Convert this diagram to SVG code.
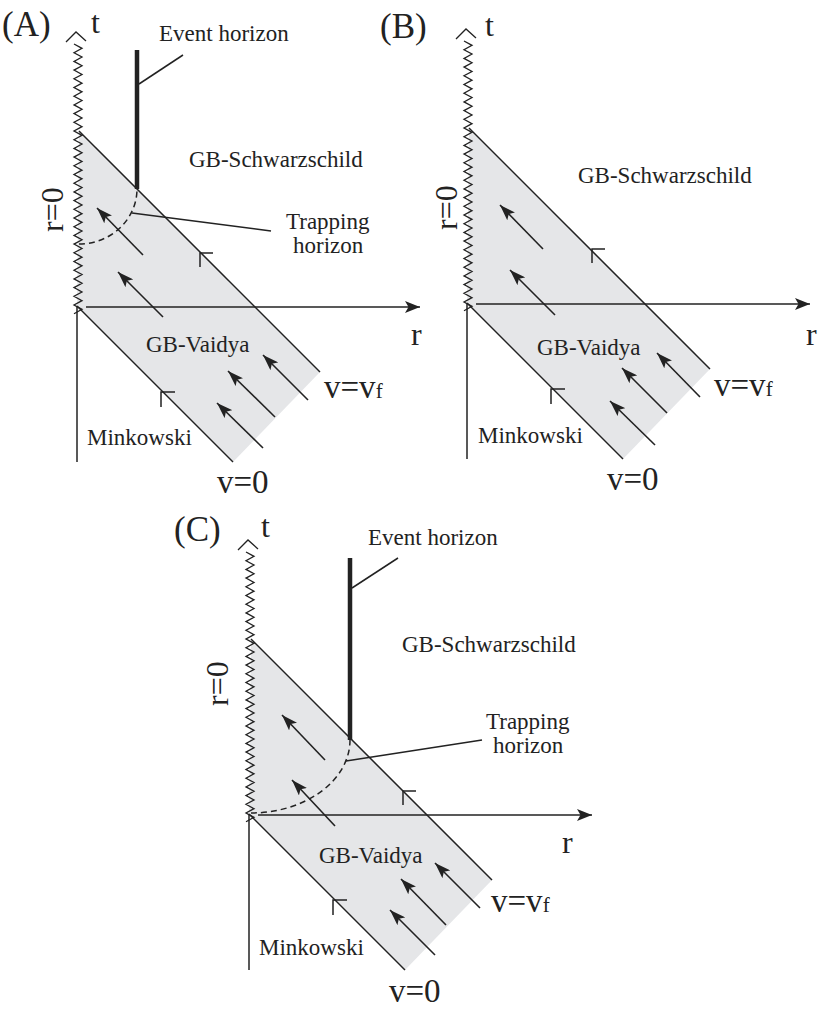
<svg xmlns="http://www.w3.org/2000/svg" xmlns:xlink="http://www.w3.org/1999/xlink" width="822" height="1010" viewBox="0 0 822 1010">
<style>
.ln{stroke:#222;stroke-width:1.5;fill:none}
.th{stroke:#222;stroke-width:1.3;fill:none}
.eh{stroke:#222;stroke-width:4.5;fill:none}
.dash{stroke:#222;stroke-width:1.5;fill:none;stroke-dasharray:6 4}
.shade{fill:#e5e6e8;stroke:none}
.lbl{font-family:"Liberation Serif","Times New Roman",serif;font-size:23px;fill:#222}
.big{font-size:32px}
.vv{font-size:33px}
.pan{font-size:35px}
.arr{stroke:#222;stroke-width:1.6;fill:none;marker-end:url(#ah)}
</style>
<defs>
<marker id="ah" markerUnits="userSpaceOnUse" viewBox="0 0 16 11" refX="16" refY="5.5" markerWidth="16" markerHeight="11" orient="auto">
<path d="M0,0 L16,5.5 L0,11 L3.5,5.5 Z" fill="#222"/>
</marker>
<marker id="ax" markerUnits="userSpaceOnUse" viewBox="0 0 15 12" refX="15" refY="6" markerWidth="15" markerHeight="12" orient="auto">
<path d="M0,0 L15,6 L0,12 L3.5,6 Z" fill="#222"/>
</marker>
<path id="zz" class="th" d="M0,0 l8,4.35 -8,4.35 8,4.35 -8,4.35 8,4.35 -8,4.35 8,4.35 -8,4.35 8,4.35 -8,4.35 8,4.35 -8,4.35 8,4.35 -8,4.35 8,4.35 -8,4.35 8,4.35 -8,4.35 8,4.35 -8,4.35 8,4.35 -8,4.35 8,4.35 -8,4.35 8,4.35 -8,4.35 8,4.35 -8,4.35 8,4.35 -8,4.35 8,4.35 -8,4.35 8,4.35 -8,4.35 8,4.35 -8,4.35 8,4.35 -8,4.35 8,4.35 -8,4.35 8,4.35 -8,4.35 8,4.35 -8,4.35 8,4.35 -8,4.35 8,4.35 -8,4.35 8,4.35 -8,4.35 8,4.35 -8,4.35 8,4.35 -8,4.35 8,4.35 -8,4.35 8,4.35 -8,4.35 8,4.35 -8,4.35 8,4.35 -8,4.35"/>
<g id="base">
<polygon class="shade" points="79,131 320,372 233,462 77,306"/>
<path class="ln" d="M79,131 L320,372"/>
<path class="ln" d="M77,306 L233,462"/>
<path class="ln" d="M77,306 L77,462"/>
<path class="ln" d="M86,307 L420,307" marker-end="url(#ax)"/>
<path class="th" d="M66,42 L76,32 L86,41"/>
<use xlink:href="#zz" x="74" y="44"/>
<path class="ln" d="M161,407 L161,392 L175,392"/>
</g>
</defs>

<!-- Panel A -->
<g id="panel-A">
<g id="A-regions"><use xlink:href="#base"/></g>
<g id="A-event-horizon"><path class="eh" d="M137,50 L137,189"/></g>
<g id="A-trapping-horizon"><path class="dash" d="M79,244 A58,55 0 0 0 137,189"/></g>
<g id="A-tick"><path class="ln" d="M200,267 L200,253 L213,253"/></g>
<g id="A-labels" class="lbl">
<text class="pan" x="2" y="36">(A)</text>
<text class="big" x="91" y="33">t</text>
<text x="159" y="41">Event horizon</text>
<text x="189" y="167">GB-Schwarzschild</text>
<text x="286" y="229">Trapping</text>
<text x="293" y="253">horizon</text>
<text class="big" transform="translate(63,232) rotate(-90)">r=0</text>
<text x="146" y="352">GB-Vaidya</text>
<text x="87" y="445">Minkowski</text>
<text class="vv" x="324" y="398">v=v<tspan font-size="21">f</tspan></text>
<text class="vv" x="217" y="493">v=0</text>
<text class="big" x="411" y="345">r</text>
</g>
</g>

<!-- Panel B -->
<g id="panel-B">
<g id="B-regions"><use xlink:href="#base" transform="translate(390,-3)"/></g>
<g id="B-tick"><path class="ln" d="M592,263 L592,249 L605,249"/></g>
<g id="B-labels" class="lbl">
<text class="pan" x="380" y="38">(B)</text>
<text class="big" x="485" y="36">t</text>
<text x="578" y="183">GB-Schwarzschild</text>
<text class="big" transform="translate(457,230) rotate(-90)">r=0</text>
<text x="537" y="355">GB-Vaidya</text>
<text x="478" y="443">Minkowski</text>
<text class="vv" x="714" y="396">v=v<tspan font-size="21">f</tspan></text>
<text class="vv" x="607" y="490">v=0</text>
<text class="big" x="806" y="345">r</text>
</g>
</g>

<!-- Panel C -->
<g id="panel-C">
<g id="C-regions"><use xlink:href="#base" transform="translate(172,508)"/></g>
<g id="C-event-horizon"><path class="eh" d="M350,558 L350,740"/></g>
<g id="C-trapping-horizon"><path class="dash" d="M251,813 A99,73 0 0 0 350,740"/></g>
<g id="C-tick"><path class="ln" d="M403,805 L403,791 L416,791"/></g>
<g id="C-labels" class="lbl">
<text class="pan" x="174" y="541">(C)</text>
<text class="big" x="261" y="537">t</text>
<text x="368" y="545">Event horizon</text>
<text x="402" y="652">GB-Schwarzschild</text>
<text x="486" y="729">Trapping</text>
<text x="493" y="753">horizon</text>
<text class="big" transform="translate(228,706) rotate(-90)">r=0</text>
<text x="319" y="863">GB-Vaidya</text>
<text x="259" y="955">Minkowski</text>
<text class="vv" x="491" y="912">v=v<tspan font-size="21">f</tspan></text>
<text class="vv" x="389" y="1002">v=0</text>
<text class="big" x="562" y="853">r</text>
</g>
</g>

<!-- Connectors: infall arrows and label leaders -->
<g id="connectors">
<path class="ln" d="M139,84 L183,55"/>
<path class="ln" d="M132,213 L271,231"/>
<path class="arr" d="M143,255 L97,208"/>
<path class="arr" d="M163,317 L118,272"/>
<path class="arr" d="M263,448 L217,403"/>
<path class="arr" d="M275,417 L228,371"/>
<path class="arr" d="M308,400 L263,355"/>

<path class="arr" d="M543,249 L500,205"/>
<path class="arr" d="M555,315 L510,270"/>
<path class="arr" d="M655,445 L610,401"/>
<path class="arr" d="M667,413 L622,368"/>
<path class="arr" d="M700,397 L657,353"/>

<path class="ln" d="M352,588 L398,558"/>
<path class="ln" d="M346,761 L482,740"/>
<path class="arr" d="M325,760 L282,715"/>
<path class="arr" d="M335,826 L292,780"/>
<path class="arr" d="M435,955 L390,910"/>
<path class="arr" d="M446,925 L401,879"/>
<path class="arr" d="M480,908 L435,863"/>
</g>
</svg>
